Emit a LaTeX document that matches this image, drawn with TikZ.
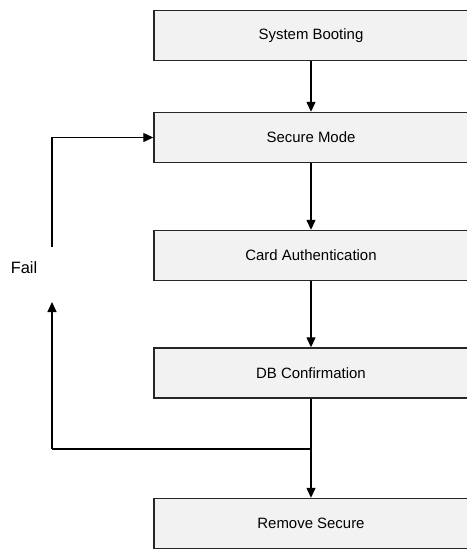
\documentclass[tikz,border=0pt]{standalone}
\usepackage{fontspec}
\setmainfont{Liberation Sans}
\usetikzlibrary{arrows.meta}
\begin{document}
\begin{tikzpicture}[x=1bp,y=-1bp,
  stepbox/.style={draw=black!85,line width=1.4bp,fill=black!5,minimum width=314bp,minimum height=50bp,inner sep=0pt,font=\fontsize{15}{17}\selectfont},
  flow/.style={line width=1.3bp,-{Triangle[length=10bp,width=9bp]}},
  plain/.style={line width=1.3bp}]
\useasboundingbox[fill=white] (0,0) rectangle (467,549);
\node[stepbox] (sb) at (311,35.5) {System Booting};
\node[stepbox] (sm) at (311,137.5) {Secure Mode};
\node[stepbox] (ca) at (311,255.5) {Card Authentication};
\node[stepbox] (db) at (311,373) {DB Confirmation};
\node[stepbox] (rs) at (311,523.5) {Remove Secure};
\node[font=\fontsize{16.5}{18}\selectfont] (fail) at (24,268) {Fail};
\coordinate (j) at (311,449);
\coordinate (c1) at (52,449);
\coordinate (f1) at (52,302);
\coordinate (f2) at (52,247);
\draw[flow] (sb) -- (sm);
\draw[flow] (sm) -- (ca);
\draw[flow] (ca) -- (db);
\draw[flow] (db) -- (rs);
\draw[plain] (j) -- (c1);
\draw[flow] (c1) -- (f1);
\draw[flow] (f2) |- (sm.west);
\end{tikzpicture}
\end{document}
